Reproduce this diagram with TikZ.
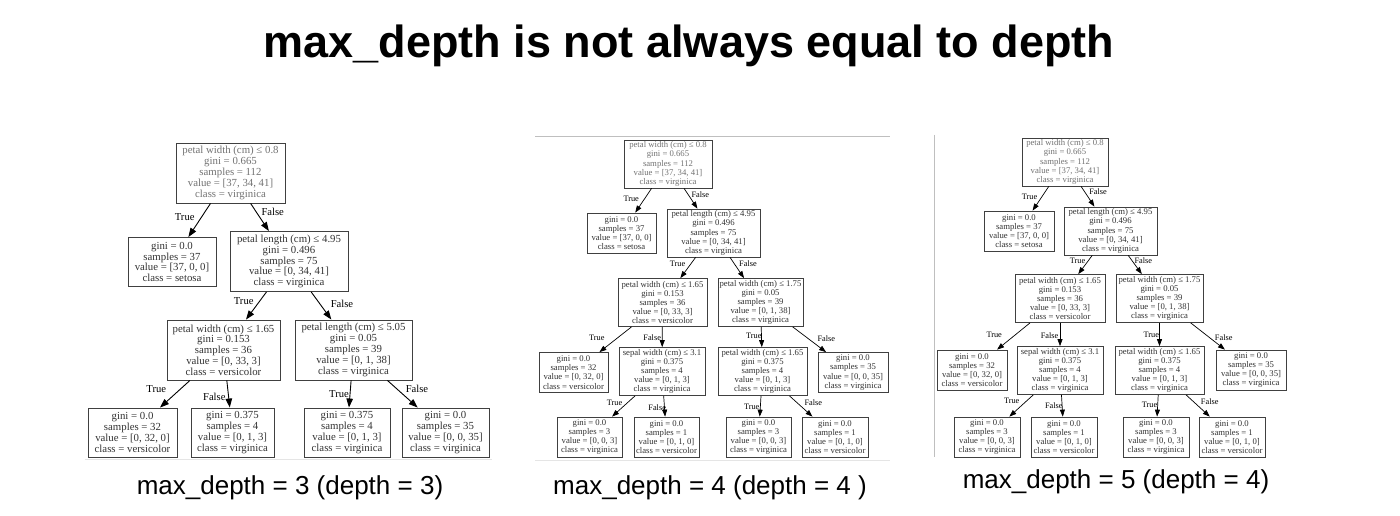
\documentclass[tikz,border=0pt]{standalone}
\usepackage{fontspec}
\setmainfont{Liberation Serif}
\newfontfamily\arialfont{Liberation Sans}
\usepackage{tikz}
\usetikzlibrary{arrows.meta}

\newcommand{\splittext}[5]{#1\\gini = #2\\samples = #3\\value = #4\\class = #5}
\newcommand{\leaftext}[4]{gini = #1\\samples = #2\\value = #3\\class = #4}

\tikzset{
	bigbox/.style={draw=black!75, line width=0.9pt, fill=white, align=center, text=black!80, inner sep=0pt, font=\fontsize{10.8}{10.8}\selectfont},
	bigfour/.style={bigbox, minimum height=49pt},
	bigfive/.style={bigbox, minimum height=60pt},
	smallbox/.style={draw=black!75, line width=0.75pt, fill=white, align=center, text=black!80, inner sep=0pt, font=\fontsize{8.7}{9.2}\selectfont},
	smallfour/.style={smallbox, minimum height=40pt},
	smallfive/.style={smallbox, minimum height=48pt},
	rootnode/.style={text=black!55},
	bigedge/.style={-{Triangle[length=9pt,width=6.5pt]}, line width=0.9pt},
	smalledge/.style={-{Triangle[length=7pt,width=5pt]}, line width=0.7pt},
	biglbl/.style={font=\fontsize{10.6}{10.6}\selectfont, inner sep=0pt},
	smalllbl/.style={font=\fontsize{8.3}{8.3}\selectfont, inner sep=0pt},
	caption/.style={font=\arialfont\fontsize{26}{26}\selectfont, anchor=base, inner sep=0pt},
	panelline/.style={line width=1pt}
}

\begin{document}
\begin{tikzpicture}[x=1pt, y=-1pt]
	\useasboundingbox[fill=white] (0,0) rectangle (1400,516);
	\node[font=\arialfont\bfseries\fontsize{45}{45}\selectfont, anchor=base, inner sep=0pt] (title) at (689,58) {max\_depth is not always equal to depth};

	\draw[panelline, black!10] (85,459) -- (492,459);
	\draw[panelline, black!25] (535,137) -- (890,137);
	\draw[panelline, black!10] (535,460) -- (890,460);
	\draw[panelline, black!25] (934,135) -- (934,457);

	\node[bigfive, rootnode, minimum width=109pt] (Lroot) at (230.5,173) {\splittext{petal width (cm) ≤ 0.8}{0.665}{112}{[37, 34, 41]}{virginica}};
	\node[bigfour, minimum width=88pt] (Lset) at (172,262) {\leaftext{0.0}{37}{[37, 0, 0]}{setosa}};
	\node[bigfive, minimum width=118pt] (Lpl) at (289,261.5) {\splittext{petal length (cm) ≤ 4.95}{0.496}{75}{[0, 34, 41]}{virginica}};
	\node[bigfive, minimum width=113pt] (Lpw) at (223.5,350) {\splittext{petal width (cm) ≤ 1.65}{0.153}{36}{[0, 33, 3]}{versicolor}};
	\node[bigfive, minimum width=117pt] (Lpl2) at (353.5,350) {\splittext{petal length (cm) ≤ 5.05}{0.05}{39}{[0, 1, 38]}{virginica}};
	\node[bigfour, minimum width=89pt] (La) at (132.5,432.5) {\leaftext{0.0}{32}{[0, 32, 0]}{versicolor}};
	\node[bigfour, minimum width=83pt] (Lb) at (232.5,432.5) {\leaftext{0.375}{4}{[0, 1, 3]}{virginica}};
	\node[bigfour, minimum width=86pt] (Lc) at (347,432.5) {\leaftext{0.375}{4}{[0, 1, 3]}{virginica}};
	\node[bigfour, minimum width=87pt] (Ld) at (445.5,432.5) {\leaftext{0.0}{35}{[0, 0, 35]}{virginica}};
	\draw[bigedge] (Lroot) -- (Lset);
	\draw[bigedge] (Lroot) -- (Lpl);
	\draw[bigedge] (Lpl) -- (Lpw);
	\draw[bigedge] (Lpl) -- (Lpl2);
	\draw[bigedge] (Lpw) -- (La);
	\draw[bigedge] (Lpw) -- (Lb);
	\draw[bigedge] (Lpl2) -- (Lc);
	\draw[bigedge] (Lpl2) -- (Ld);
	\node[biglbl] (Lt1) at (184.7,217) {True};
	\node[biglbl] (Lf1) at (272.7,211.7) {False};
	\node[biglbl] (Lt2) at (243.7,301) {True};
	\node[biglbl] (Lf2) at (342,304) {False};
	\node[biglbl] (Lt3) at (156.3,389.3) {True};
	\node[biglbl] (Lf3) at (214.3,396.7) {False};
	\node[biglbl] (Lt4) at (339,394) {True};
	\node[biglbl] (Lf4) at (417,389.3) {False};
	\node[caption] (Lcap) at (290,494) {max\_depth = 3 (depth = 3)};

	\node[smallfive, rootnode, minimum width=88pt] (Mroot) at (668,164) {\splittext{petal width (cm) ≤ 0.8}{0.665}{112}{[37, 34, 41]}{virginica}};
	\node[smallfour, minimum width=69pt] (Mset) at (621.5,233) {\leaftext{0.0}{37}{[37, 0, 0]}{setosa}};
	\node[smallfive, minimum width=93pt] (Mpl) at (713.5,233) {\splittext{petal length (cm) ≤ 4.95}{0.496}{75}{[0, 34, 41]}{virginica}};
	\node[smallfive, minimum width=89pt] (Mpw) at (662.5,302.5) {\splittext{petal width (cm) ≤ 1.65}{0.153}{36}{[0, 33, 3]}{versicolor}};
	\node[smallfive, minimum width=85pt] (Mpw2) at (760.5,302.5) {\splittext{petal width (cm) ≤ 1.75}{0.05}{39}{[0, 1, 38]}{virginica}};
	\node[smallfour, minimum width=69pt] (Mla) at (573.5,372.5) {\leaftext{0.0}{32}{[0, 32, 0]}{versicolor}};
	\node[smallfive, minimum width=86pt] (Msep) at (662,371.5) {\splittext{sepal width (cm) ≤ 3.1}{0.375}{4}{[0, 1, 3]}{virginica}};
	\node[smallfive, minimum width=89pt] (Mpw3) at (762.5,371.5) {\splittext{petal width (cm) ≤ 1.65}{0.375}{4}{[0, 1, 3]}{virginica}};
	\node[smallfour, minimum width=70pt] (Mld) at (853,372.5) {\leaftext{0.0}{35}{[0, 0, 35]}{virginica}};
	\node[smallfour, minimum width=65pt] (Mlx) at (589.5,437) {\leaftext{0.0}{3}{[0, 0, 3]}{virginica}};
	\node[smallfour, minimum width=65pt] (Mly) at (666.5,437) {\leaftext{0.0}{1}{[0, 1, 0]}{versicolor}};
	\node[smallfour, minimum width=65pt] (Mlz) at (758.5,437) {\leaftext{0.0}{3}{[0, 0, 3]}{virginica}};
	\node[smallfour, minimum width=66pt] (Mlw) at (835,437) {\leaftext{0.0}{1}{[0, 1, 0]}{versicolor}};
	\draw[smalledge] (Mroot) -- (Mset);
	\draw[smalledge] (Mroot) -- (Mpl);
	\draw[smalledge] (Mpl) -- (Mpw);
	\draw[smalledge] (Mpl) -- (Mpw2);
	\draw[smalledge] (Mpw) -- (Mla);
	\draw[smalledge] (Mpw) -- (Msep);
	\draw[smalledge] (Mpw2) -- (Mpw3);
	\draw[smalledge] (Mpw2) -- (Mld);
	\draw[smalledge] (Msep) -- (Mlx);
	\draw[smalledge] (Msep) -- (Mly);
	\draw[smalledge] (Mpw3) -- (Mlz);
	\draw[smalledge] (Mpw3) -- (Mlw);
	\node[smalllbl] (Mt1) at (631.2,199.3) {True};
	\node[smalllbl] (Mf1) at (700.3,194.3) {False};
	\node[smalllbl] (Mt2) at (677.5,264) {True};
	\node[smalllbl] (Mf2) at (748,264) {False};
	\node[smalllbl] (Mt3) at (596.8,337.7) {True};
	\node[smalllbl] (Mf3) at (652.2,337.7) {False};
	\node[smalllbl] (Mt4) at (753.8,336.3) {True};
	\node[smalllbl] (Mf4) at (826.3,339) {False};
	\node[smalllbl] (Mt5) at (614.5,402.7) {True};
	\node[smalllbl] (Mf5) at (657.2,407.3) {False};
	\node[smalllbl] (Mt6) at (751.7,406.7) {True};
	\node[smalllbl] (Mf6) at (813.3,402.7) {False};
	\node[caption] (Mcap) at (710,494) {max\_depth = 4 (depth = 4 )};

	\node[smallfive, rootnode, minimum width=86pt] (Rroot) at (1065,162) {\splittext{petal width (cm) ≤ 0.8}{0.665}{112}{[37, 34, 41]}{virginica}};
	\node[smallfour, minimum width=70pt] (Rset) at (1019,231) {\leaftext{0.0}{37}{[37, 0, 0]}{setosa}};
	\node[smallfive, minimum width=93pt] (Rpl) at (1110.5,231) {\splittext{petal length (cm) ≤ 4.95}{0.496}{75}{[0, 34, 41]}{virginica}};
	\node[smallfive, minimum width=90pt] (Rpw) at (1060,298.5) {\splittext{petal width (cm) ≤ 1.65}{0.153}{36}{[0, 33, 3]}{versicolor}};
	\node[smallfive, minimum width=87pt] (Rpw2) at (1159.5,298.5) {\splittext{petal width (cm) ≤ 1.75}{0.05}{39}{[0, 1, 38]}{virginica}};
	\node[smallfour, minimum width=70pt] (Rla) at (972,370) {\leaftext{0.0}{32}{[0, 32, 0]}{versicolor}};
	\node[smallfive, minimum width=86pt] (Rsep) at (1060,370.5) {\splittext{sepal width (cm) ≤ 3.1}{0.375}{4}{[0, 1, 3]}{virginica}};
	\node[smallfive, minimum width=89pt] (Rpw3) at (1159.5,370.5) {\splittext{petal width (cm) ≤ 1.65}{0.375}{4}{[0, 1, 3]}{virginica}};
	\node[smallfour, minimum width=70pt] (Rld) at (1251,370) {\leaftext{0.0}{35}{[0, 0, 35]}{virginica}};
	\node[smallfour, minimum width=66pt] (Rlx) at (987,437) {\leaftext{0.0}{3}{[0, 0, 3]}{virginica}};
	\node[smallfour, minimum width=66pt] (Rly) at (1064,437) {\leaftext{0.0}{1}{[0, 1, 0]}{versicolor}};
	\node[smallfour, minimum width=66pt] (Rlz) at (1156,437) {\leaftext{0.0}{3}{[0, 0, 3]}{virginica}};
	\node[smallfour, minimum width=66pt] (Rlw) at (1232,437) {\leaftext{0.0}{1}{[0, 1, 0]}{versicolor}};
	\draw[smalledge] (Rroot) -- (Rset);
	\draw[smalledge] (Rroot) -- (Rpl);
	\draw[smalledge] (Rpl) -- (Rpw);
	\draw[smalledge] (Rpl) -- (Rpw2);
	\draw[smalledge] (Rpw) -- (Rla);
	\draw[smalledge] (Rpw) -- (Rsep);
	\draw[smalledge] (Rpw2) -- (Rpw3);
	\draw[smalledge] (Rpw2) -- (Rld);
	\draw[smalledge] (Rsep) -- (Rlx);
	\draw[smalledge] (Rsep) -- (Rly);
	\draw[smalledge] (Rpw3) -- (Rlz);
	\draw[smalledge] (Rpw3) -- (Rlw);
	\node[smalllbl] (Rt1) at (1029.5,196.7) {True};
	\node[smalllbl] (Rf1) at (1098,192) {False};
	\node[smalllbl] (Rt2) at (1077.5,261) {True};
	\node[smalllbl] (Rf2) at (1143.3,261) {False};
	\node[smalllbl] (Rt3) at (994.2,335) {True};
	\node[smalllbl] (Rf3) at (1049.5,336) {False};
	\node[smalllbl] (Rt4) at (1151.3,335) {True};
	\node[smalllbl] (Rf4) at (1223.7,337.3) {False};
	\node[smalllbl] (Rt5) at (1011.7,400.7) {True};
	\node[smalllbl] (Rf5) at (1053.8,406) {False};
	\node[smalllbl] (Rt6) at (1149.5,405.3) {True};
	\node[smalllbl] (Rf6) at (1209.7,401.3) {False};
	\node[caption] (Rcap) at (1116,488) {max\_depth = 5 (depth = 4)};
\end{tikzpicture}
\end{document}
